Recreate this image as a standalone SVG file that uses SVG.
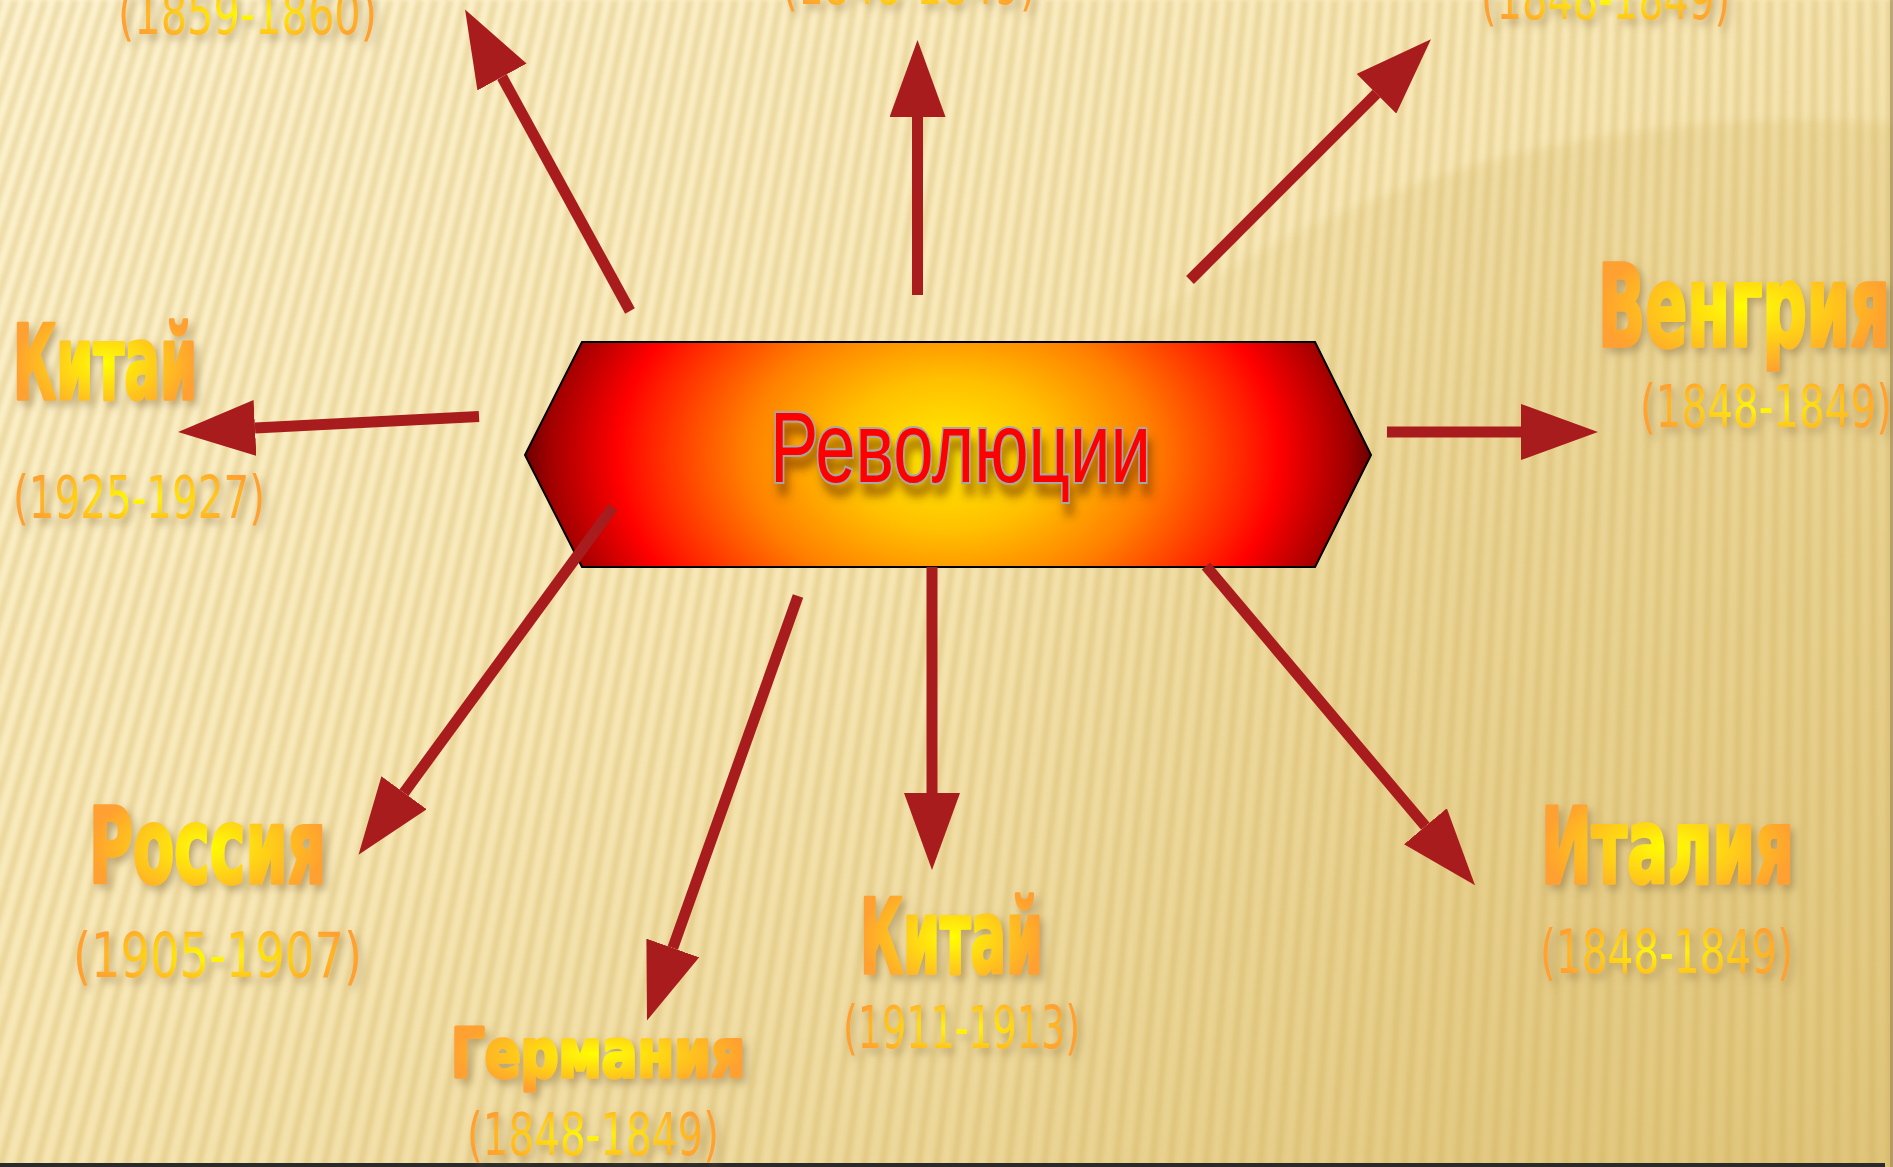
<svg xmlns="http://www.w3.org/2000/svg" width="1893" height="1167" viewBox="0 0 1893 1167">
<defs>
<linearGradient id="bg" x1="0" y1="0" x2="1" y2="1">
<stop offset="0" stop-color="#FEF4D2"/>
<stop offset="0.45" stop-color="#F8E8B7"/>
<stop offset="1" stop-color="#E3C981"/>
</linearGradient>
<linearGradient id="glowFade" gradientUnits="userSpaceOnUse" x1="900" y1="0" x2="1450" y2="0">
<stop offset="0" stop-color="#D6B865" stop-opacity="0"/>
<stop offset="1" stop-color="#D6B865" stop-opacity="1"/>
</linearGradient>
<radialGradient id="hexFill" gradientUnits="userSpaceOnUse" cx="948" cy="455" r="430" gradientTransform="translate(948 455) scale(1 0.7) translate(-948 -455)">
<stop offset="0" stop-color="#FFEE00"/>
<stop offset="0.25" stop-color="#FFC000"/>
<stop offset="0.47" stop-color="#FF8000"/>
<stop offset="0.7" stop-color="#FF2000"/>
<stop offset="0.77" stop-color="#FF0000"/>
<stop offset="0.93" stop-color="#A00000"/>
<stop offset="1" stop-color="#5A0000"/>
</radialGradient>
<radialGradient id="txtFill" cx="0.5" cy="0.5" r="0.5">
<stop offset="0" stop-color="#FFFF00"/>
<stop offset="1" stop-color="#FFA030"/>
</radialGradient>
<filter id="shadow" x="-10%" y="-20%" width="130%" height="160%">
<feDropShadow dx="4" dy="5" stdDeviation="4" flood-color="#8A7040" flood-opacity="0.5"/>
</filter>
<filter id="redShadow" x="-10%" y="-20%" width="130%" height="170%">
<feDropShadow dx="4" dy="12" stdDeviation="5" flood-color="#703000" flood-opacity="0.6"/>
</filter>
<filter id="soft" x="-5%" y="-5%" width="110%" height="110%">
<feGaussianBlur stdDeviation="2"/>
</filter>
<filter id="softer" x="-10%" y="-10%" width="120%" height="120%">
<feGaussianBlur stdDeviation="4"/>
</filter>
<marker id="head" markerUnits="userSpaceOnUse" viewBox="0 0 77 56" markerWidth="77" markerHeight="56" refX="0" refY="28" orient="auto">
<path d="M0,0 L77,28 L0,56 Z" fill="#A81C1E"/>
</marker>
<style>
.arrow{fill:none;stroke:#A81C1E;stroke-width:11;stroke-linecap:butt;marker-end:url(#head)}
.t{font-family:"Liberation Sans Narrow","DejaVu Sans Condensed","Liberation Sans",sans-serif;font-weight:bold;fill:url(#txtFill);stroke:url(#txtFill);stroke-width:3.5;stroke-linejoin:round;filter:url(#shadow)}
.d{font-family:"DejaVu Sans","Liberation Sans",sans-serif;font-weight:normal;fill:url(#txtFill);filter:url(#shadow)}
.rev{font-family:"Liberation Sans",Arial,sans-serif;font-size:100px;fill:#FF0000;stroke:#A6A6A6;stroke-width:4;paint-order:stroke fill;filter:url(#redShadow)}
</style>
</defs>

<g id="background">
<rect x="0" y="0" width="1893" height="1167" fill="url(#bg)"/>
<ellipse cx="1800" cy="950" rx="1000" ry="830" fill="url(#glowFade)" opacity="0.22" filter="url(#softer)"/>
<path filter="url(#soft)" fill="none" stroke="#C9A850" stroke-width="7" opacity="0.3" d="M1890,0L1890,1167M1875,0L1872,1167M1860,0L1854,1167M1845,0L1836,1167M1830,0L1818,1167M1815,0L1800,1167M1800,0L1782,1167M1785,0L1764,1167M1770,0L1746,1167M1755,0L1728,1167M1740,0L1710,1167M1725,0L1692,1167M1710,0L1674,1167M1695,0L1656,1167M1680,0L1638,1167M1665,0L1620,1167M1650,0L1602,1167M1635,0L1584,1167M1620,0L1566,1167M1605,0L1548,1167M1590,0L1530,1167M1575,0L1512,1167M1560,0L1494,1167M1545,0L1476,1167M1530,0L1458,1167M1515,0L1440,1167M1500,0L1422,1167M1485,0L1404,1167M1470,0L1386,1167M1455,0L1368,1167M1440,0L1350,1167M1425,0L1332,1167M1410,0L1314,1167M1395,0L1296,1167M1380,0L1278,1167M1365,0L1260,1167M1350,0L1242,1167M1335,0L1224,1167M1320,0L1206,1167M1305,0L1188,1167M1290,0L1170,1167M1275,0L1152,1167M1260,0L1134,1167M1245,0L1116,1167M1230,0L1098,1167M1215,0L1080,1167M1200,0L1062,1167M1185,0L1044,1167M1170,0L1026,1167M1155,0L1008,1167M1140,0L990,1167M1125,0L972,1167M1110,0L954,1167M1095,0L936,1167M1080,0L918,1167M1065,0L900,1167M1050,0L882,1167M1035,0L864,1167M1020,0L846,1167M1005,0L828,1167M990,0L810,1167M975,0L792,1167M960,0L774,1167M945,0L756,1167M930,0L738,1167M915,0L720,1167M900,0L702,1167M885,0L684,1167M870,0L666,1167M855,0L648,1167M840,0L630,1167M825,0L612,1167M810,0L594,1167M795,0L576,1167M780,0L558,1167M765,0L540,1167M750,0L522,1167M735,0L504,1167M720,0L486,1167M705,0L468,1167M690,0L450,1167M675,0L432,1167M660,0L414,1167M645,0L396,1167M630,0L378,1167M615,0L360,1167M600,0L342,1167M585,0L324,1167M570,0L306,1167M555,0L288,1167M540,0L270,1167M525,0L252,1167M510,0L234,1167M495,0L216,1167M480,0L198,1167M465,0L180,1167M450,0L162,1167M435,0L144,1167M420,0L126,1167M405,0L108,1167M390,0L90,1167M375,0L72,1167M360,0L54,1167M345,0L36,1167M330,0L18,1167M315,0L0,1167M300,0L-18,1167M285,0L-36,1167M270,0L-54,1167M255,0L-72,1167M240,0L-90,1167M225,0L-108,1167M210,0L-126,1167M195,0L-144,1167M180,0L-162,1167M165,0L-180,1167M150,0L-198,1167M135,0L-216,1167M120,0L-234,1167M105,0L-252,1167M90,0L-270,1167M75,0L-288,1167M60,0L-306,1167M45,0L-324,1167M30,0L-342,1167M15,0L-360,1167M0,0L-378,1167"/>
<rect x="1890" y="0" width="3" height="1167" fill="#8C7A55" opacity="0.5"/>
<rect x="0" y="1163" width="1885" height="4" fill="#2A2A2A"/>
</g>

<g id="node-revolutions">
<polygon points="582,342 1315,342 1371,455 1315,567 582,567 525,455" fill="url(#hexFill)" stroke="#000000" stroke-width="2"/>
<text class="rev" x="770" y="482" textLength="381" lengthAdjust="spacingAndGlyphs">Революции</text>
</g>

<g id="connectors">
<path class="arrow" d="M630,311 L502,77"/>
<path class="arrow" d="M917.5,295 L917.5,117"/>
<path class="arrow" d="M1190,280 L1376.5,93.7"/>
<path class="arrow" d="M1387,432 L1521,432"/>
<path class="arrow" d="M479,416.5 L255,428"/>
<path class="arrow" d="M613,507 L404,792.7"/>
<path class="arrow" d="M798,596 L672.8,948"/>
<path class="arrow" d="M932,567 L932,793"/>
<path class="arrow" d="M1206,566 L1425.4,826.3"/>
</g>

<g id="node-top-left">
<text class="d" x="118" y="34" font-size="58" textLength="259" lengthAdjust="spacingAndGlyphs">(1859-1860)</text>
</g>
<g id="node-top-center">
<text class="d" x="782" y="4" font-size="58" textLength="254" lengthAdjust="spacingAndGlyphs">(1848-1849)</text>
</g>
<g id="node-top-right">
<text class="d" x="1481" y="19" font-size="58" textLength="249" lengthAdjust="spacingAndGlyphs">(1848-1849)</text>
</g>
<g id="node-china-1925">
<text class="t" x="13" y="399" font-size="103" textLength="184" lengthAdjust="spacingAndGlyphs">Китай</text>
<text class="d" x="13" y="518" font-size="58" textLength="252" lengthAdjust="spacingAndGlyphs">(1925-1927)</text>
</g>
<g id="node-hungary">
<text class="t" x="1598" y="346" font-size="114" textLength="292" lengthAdjust="spacingAndGlyphs">Венгрия</text>
<text class="d" x="1640" y="427" font-size="58" textLength="252" lengthAdjust="spacingAndGlyphs">(1848-1849)</text>
</g>
<g id="node-russia">
<text class="t" x="89" y="883" font-size="106" textLength="237" lengthAdjust="spacingAndGlyphs">Россия</text>
<text class="d" x="73" y="977" font-size="62" textLength="289" lengthAdjust="spacingAndGlyphs">(1905-1907)</text>
</g>
<g id="node-germany">
<text class="t" x="451" y="1077" font-size="68" textLength="294" lengthAdjust="spacingAndGlyphs">Германия</text>
<text class="d" x="467" y="1155" font-size="58" textLength="252" lengthAdjust="spacingAndGlyphs">(1848-1849)</text>
</g>
<g id="node-china-1911">
<text class="t" x="860" y="973" font-size="103" textLength="183" lengthAdjust="spacingAndGlyphs">Китай</text>
<text class="d" x="843" y="1048" font-size="59" textLength="237" lengthAdjust="spacingAndGlyphs">(1911-1913)</text>
</g>
<g id="node-italy">
<text class="t" x="1541" y="883" font-size="106" textLength="253" lengthAdjust="spacingAndGlyphs">Италия</text>
<text class="d" x="1540" y="973" font-size="60" textLength="253" lengthAdjust="spacingAndGlyphs">(1848-1849)</text>
</g>
</svg>
